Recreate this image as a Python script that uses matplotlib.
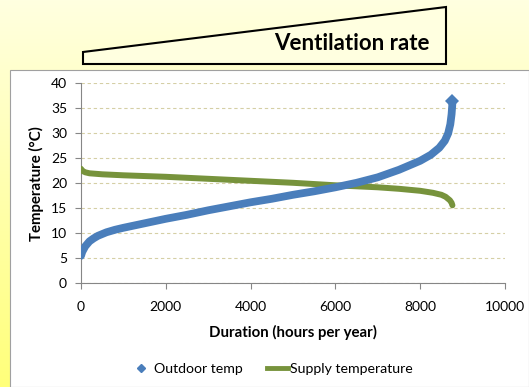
import matplotlib.pyplot as plt
import numpy as np
from matplotlib.lines import Line2D
from matplotlib.patches import Polygon, Rectangle

# duration curve (hours per year -> deg C)
outdoor_hours = [0, 30, 100, 200, 300, 400, 600, 800, 1000, 1500, 2000, 2500, 3000,
                 3500, 4000, 4500, 5000, 5500, 6000, 6500, 7000, 7500, 8000, 8250,
                 8450, 8580, 8660, 8710, 8740, 8755, 8760]
outdoor_temp = [5.5, 6.3, 7.4, 8.4, 9.0, 9.5, 10.2, 10.7, 11.1, 12.0, 12.9, 13.7, 14.6,
                15.4, 16.2, 16.9, 17.7, 18.4, 19.2, 20.1, 21.2, 22.7, 24.5, 25.7,
                27.1, 28.5, 30.0, 31.8, 33.8, 35.5, 36.5]

supply_hours = [0, 30, 100, 200, 500, 1000, 2000, 3000, 4000, 5000, 6000, 7000, 7500,
                8000, 8300, 8500, 8600, 8700, 8740, 8760]
supply_temp = [22.9, 22.5, 22.2, 22.0, 21.8, 21.6, 21.3, 20.9, 20.5, 20.1, 19.6, 19.2, 18.9,
               18.5, 18.1, 17.7, 17.3, 16.6, 16.1, 15.6]

x_ticks = [0, 2000, 4000, 6000, 8000, 10000]
y_ticks = [0, 5, 10, 15, 20, 25, 30, 35, 40]

W, H = 529, 387
plt.rcParams['font.family'] = ['Lato', 'DejaVu Sans']
fig = plt.figure(figsize=(W / 100, H / 100), dpi=100)

# yellow gradient backdrop
bg = fig.add_axes([0, 0, 1, 1], zorder=-10)
top = np.array([255, 255, 224]) / 255
bot = np.array([255, 255, 122]) / 255
t = np.linspace(0, 1, 200)[:, None, None]
grad = top * (1 - t) + bot * t
bg.imshow(np.repeat(grad, 2, axis=1), aspect='auto', extent=[0, 1, 0, 1])
bg.set_xlim(0, 1)
bg.set_ylim(0, 1)
bg.axis('off')

def px(x, y):
    return (x / W, 1 - y / H)

# white chart area
bg.add_patch(Rectangle(px(10, 387), 1 - 10 / W, (387 - 70) / H, facecolor='white',
                       edgecolor='#A0A0A0', lw=0.8, zorder=2))

# ventilation rate wedge
wedge = [px(83, 64), px(83, 52), px(446, 7), px(446, 64)]
bg.add_patch(Polygon(wedge, closed=True, facecolor='#FFFFE0', edgecolor='black', lw=1.5, zorder=3))
bg.text(*px(430, 43), 'Ventilation rate', ha='right', va='center', fontsize=16,
        fontweight='bold', zorder=4)

ax = fig.add_axes([81 / W, 1 - 283.3 / H, (505 - 81) / W, 200 / H])
ax.set_facecolor('none')
ax.plot(supply_hours, supply_temp, color='#77933C', lw=4.3, solid_capstyle='round', zorder=3)
ax.plot(outdoor_hours, outdoor_temp, color='#4A7EBB', lw=5.6, marker='D', ms=7, mew=0,
        markevery=[len(outdoor_hours) - 1], solid_capstyle='round', zorder=4)

ax.set_xlim(0, 10000)
ax.set_ylim(0, 40)
ax.set_xticks(x_ticks)
ax.set_yticks(y_ticks)
ax.grid(axis='y', color='#D5CFA5', linestyle=(0, (3, 2.5)), lw=0.8)
ax.set_axisbelow(True)
for s in ['top', 'right']:
    ax.spines[s].set_visible(False)
for s in ['left', 'bottom']:
    ax.spines[s].set_color('#868686')
ax.tick_params(axis='both', colors='#868686', labelcolor='black', labelsize=10, length=4)
ax.tick_params(axis='x', pad=9)
ax.tick_params(axis='y', pad=6)
ax.set_xlabel('Duration (hours per year)', fontsize=10.8, fontweight='bold', labelpad=8)
ax.set_ylabel('Temperature (°C)', fontsize=10.8, fontweight='bold', labelpad=5)

handles = [Line2D([], [], color='#4A7EBB', marker='D', ls='none', ms=4.5),
           Line2D([], [], color='#77933C', lw=3.5)]
fig.legend(handles, ['Outdoor temp', 'Supply temperature'], loc='center',
           bbox_to_anchor=px(272, 369), ncol=2, frameon=False, fontsize=10.2,
           handlelength=1.5, handletextpad=0.15, columnspacing=1.7)

fig.savefig('out.png', dpi=100)
